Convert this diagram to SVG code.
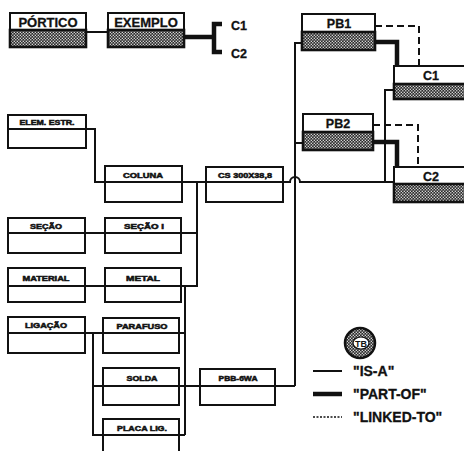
<svg xmlns="http://www.w3.org/2000/svg" width="464" height="451" viewBox="0 0 464 451">
<defs>
<pattern id="hatch" width="3" height="3" patternUnits="userSpaceOnUse">
<rect width="3" height="3" fill="#2a2a2a"/>
<rect x="0.2" y="0.2" width="1.2" height="1.2" fill="#fff"/>
<rect x="1.7" y="1.7" width="1.2" height="1.2" fill="#fff"/>
</pattern>
<style>
.box{fill:#fff;stroke:#111;stroke-width:2}
.hb{fill:url(#hatch);stroke:#111;stroke-width:2.6}
.big{font-family:"Liberation Sans",Arial,sans-serif;font-weight:bold;font-size:13px;fill:#111;stroke:#111;stroke-width:0.3;text-anchor:middle}
.mid{font-family:"Liberation Sans",Arial,sans-serif;font-weight:bold;font-size:12.5px;fill:#111;stroke:#111;stroke-width:0.3;text-anchor:middle}
.sm{font-family:"Liberation Sans",Arial,sans-serif;font-weight:bold;font-size:7px;fill:#111;stroke:#111;stroke-width:0.5;text-anchor:middle}
.leg{font-family:"Liberation Sans",Arial,sans-serif;font-weight:bold;font-size:14px;fill:#111;stroke:#111;stroke-width:0.3}
.thin{fill:none;stroke:#111;stroke-width:2}
.thick{fill:none;stroke:#111;stroke-width:4.5}
.dash{fill:none;stroke:#111;stroke-width:2;stroke-dasharray:7 4}
.dot{fill:none;stroke:#111;stroke-width:1.5;stroke-dasharray:2 1.5}
</style>
</defs>
<rect width="464" height="451" fill="#fff"/>

<g id="connectors">
<path class="thin" d="M86 32 H108"/>
<path class="thick" d="M184 37 H214 M222 24 H214 V52 H222"/>
<path class="thin" d="M86 129 H95 V182 H290 A5 5 0 0 1 300 182 H394"/>
<path class="thin" d="M197 182 V287"/>
<path class="thin" d="M85 233 H197"/>
<path class="thin" d="M85 286 H197"/>
<path class="thin" d="M185 286 V435"/>
<path class="thin" d="M85 333 H185"/>
<path class="thin" d="M93 333 V435 H185"/>
<path class="thin" d="M93 386 H295"/>
<path class="thin" d="M302 43 H295 V386"/>
<path class="thin" d="M303 143 H295"/>
<path class="thin" d="M394 90 H385 V182"/>
<path class="thick" d="M375 42 H397 V66"/>
<path class="thick" d="M373 142 H397 V167"/>
<path class="dash" d="M375 26 H419 V66"/>
<path class="dash" d="M373 125 H418 V167"/>
</g>

<g id="portico">
<rect class="box" x="10" y="13" width="76" height="17"/>
<rect class="hb" x="10" y="30" width="76" height="17"/>
<text class="big" x="48" y="27">PÓRTICO</text>
</g>
<g id="exemplo">
<rect class="box" x="108" y="13" width="76" height="17"/>
<rect class="hb" x="108" y="30" width="76" height="17"/>
<text class="big" x="146" y="27">EXEMPLO</text>
</g>
<g id="exemplo-parts">
<text class="mid" x="239" y="30">C1</text>
<text class="mid" x="239" y="58">C2</text>
</g>

<g id="pb1">
<rect class="box" x="302" y="14" width="73" height="18"/>
<rect class="hb" x="302" y="32" width="73" height="18"/>
<text class="mid" x="339" y="28">PB1</text>
</g>
<g id="pb2">
<rect class="box" x="303" y="114" width="70" height="18"/>
<rect class="hb" x="303" y="132" width="70" height="18"/>
<text class="mid" x="338" y="128">PB2</text>
</g>
<g id="c1">
<rect class="box" x="394" y="66" width="76" height="18"/>
<rect class="hb" x="394" y="84" width="76" height="15"/>
<text class="mid" x="431" y="80">C1</text>
</g>
<g id="c2">
<rect class="box" x="394" y="167" width="76" height="17"/>
<rect class="hb" x="394" y="184" width="76" height="18"/>
<text class="mid" x="431" y="181">C2</text>
</g>

<g id="elem-estr">
<rect class="box" x="8" y="115" width="78" height="33"/>
<line class="thin" x1="8" y1="129" x2="86" y2="129"/>
<text class="sm" x="47" y="125" textLength="55" lengthAdjust="spacingAndGlyphs">ELEM. ESTR.</text>
</g>
<g id="coluna">
<rect class="box" x="105" y="166" width="77" height="36"/>
<line class="thin" x1="105" y1="182" x2="182" y2="182"/>
<text class="sm" x="143" y="178" textLength="40" lengthAdjust="spacingAndGlyphs">COLUNA</text>
</g>
<g id="cs">
<rect class="box" x="206" y="167" width="77" height="35"/>
<line class="thin" x1="206" y1="182" x2="283" y2="182"/>
<text class="sm" x="245" y="178" textLength="54" lengthAdjust="spacingAndGlyphs">CS 300X38,8</text>
</g>
<g id="secao">
<rect class="box" x="8" y="218" width="77" height="35"/>
<line class="thin" x1="8" y1="233" x2="85" y2="233"/>
<text class="sm" x="46" y="229" textLength="32" lengthAdjust="spacingAndGlyphs">SEÇÃO</text>
</g>
<g id="secao-i">
<rect class="box" x="105" y="218" width="76" height="35"/>
<line class="thin" x1="105" y1="233" x2="181" y2="233"/>
<text class="sm" x="144" y="229" textLength="40" lengthAdjust="spacingAndGlyphs">SEÇÃO I</text>
</g>
<g id="material">
<rect class="box" x="8" y="268" width="77" height="34"/>
<line class="thin" x1="8" y1="286" x2="85" y2="286"/>
<text class="sm" x="46" y="281" textLength="47" lengthAdjust="spacingAndGlyphs">MATERIAL</text>
</g>
<g id="metal">
<rect class="box" x="105" y="268" width="76" height="34"/>
<line class="thin" x1="105" y1="286" x2="181" y2="286"/>
<text class="sm" x="143" y="281" textLength="34" lengthAdjust="spacingAndGlyphs">METAL</text>
</g>
<g id="ligacao">
<rect class="box" x="8" y="317" width="77" height="36"/>
<line class="thin" x1="8" y1="333" x2="85" y2="333"/>
<text class="sm" x="46" y="328" textLength="42" lengthAdjust="spacingAndGlyphs">LIGAÇÃO</text>
</g>
<g id="parafuso">
<rect class="box" x="103" y="318" width="76" height="35"/>
<line class="thin" x1="103" y1="333" x2="179" y2="333"/>
<text class="sm" x="142" y="329" textLength="51" lengthAdjust="spacingAndGlyphs">PARAFUSO</text>
</g>
<g id="solda">
<rect class="box" x="103" y="368" width="76" height="37"/>
<line class="thin" x1="103" y1="386" x2="179" y2="386"/>
<text class="sm" x="142" y="381" textLength="31" lengthAdjust="spacingAndGlyphs">SOLDA</text>
</g>
<g id="pbb">
<rect class="box" x="200" y="369" width="75" height="36"/>
<line class="thin" x1="200" y1="386" x2="275" y2="386"/>
<text class="sm" x="238" y="381" textLength="39" lengthAdjust="spacingAndGlyphs">PBB-6WA</text>
</g>
<g id="placa">
<rect class="box" x="103" y="419" width="76" height="40"/>
<line class="thin" x1="103" y1="435" x2="179" y2="435"/>
<text class="sm" x="142" y="431" textLength="50" lengthAdjust="spacingAndGlyphs">PLACA LIG.</text>
</g>

<g id="legend">
<circle cx="360" cy="343" r="15" fill="url(#hatch)" stroke="#111" stroke-width="2.5"/>
<ellipse cx="361" cy="343" rx="8" ry="6" fill="#fff" stroke="#111" stroke-width="1.2"/>
<text x="361" y="346.5" font-family="Liberation Sans,Arial,sans-serif" font-weight="bold" font-size="9" text-anchor="middle" fill="#111">TB</text>
<line class="thin" x1="313" y1="371" x2="342" y2="371"/>
<text class="leg" x="353" y="376">"IS-A"</text>
<line class="thick" x1="313" y1="394" x2="342" y2="394"/>
<text class="leg" x="353" y="399">"PART-OF"</text>
<line class="dot" x1="313" y1="417" x2="342" y2="417"/>
<text class="leg" x="353" y="422">"LINKED-TO"</text>
</g>
</svg>
